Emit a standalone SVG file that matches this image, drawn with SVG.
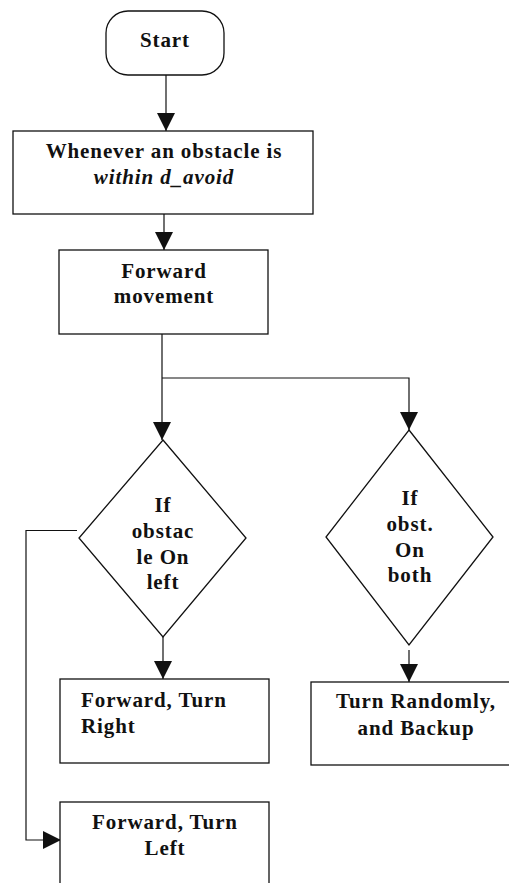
<svg xmlns="http://www.w3.org/2000/svg" width="509" height="883" viewBox="0 0 509 883">
<style>
.n{fill:#fff;stroke:#111;stroke-width:1.3}
.t{font-family:"Liberation Serif","Times New Roman",serif;font-weight:bold;font-size:21px;letter-spacing:0.9px;fill:#111}
.c{text-anchor:middle}
.i{font-style:italic}
.e{fill:none;stroke:#111;stroke-width:1.2}
</style>
<defs>
<marker id="ah" viewBox="0 0 10 10" refX="10" refY="5" markerWidth="18" markerHeight="18" markerUnits="userSpaceOnUse" orient="auto">
<path d="M0,0 L10,5 L0,10 Z" fill="#111"/>
</marker>
</defs>
<rect width="509" height="883" fill="#fff"/>
<g id="connectors">
<path class="e" d="M166,75 V131" marker-end="url(#ah)"/>
<path class="e" d="M164,214 V250" marker-end="url(#ah)"/>
<path class="e" d="M162,334 V378 M162,378 V440" marker-end="url(#ah)"/>
<path class="e" d="M162,378 H409 V430" marker-end="url(#ah)"/>
<path class="e" d="M163,637 V679" marker-end="url(#ah)"/>
<path class="e" d="M409,650 V682" marker-end="url(#ah)"/>
<path class="e" d="M77,530.5 H26 V840 H61" marker-end="url(#ah)"/>
</g>
<g id="start">
<rect class="n" x="106" y="11" width="118" height="64" rx="22" ry="22"/>
<text class="t c" x="165" y="47">Start</text>
</g>
<g id="whenever">
<rect class="n" x="13" y="131" width="300" height="83"/>
<text class="t c" x="164" y="158">Whenever an obstacle is</text>
<text class="t c i" x="164" y="184">within d_avoid</text>
</g>
<g id="forward-movement">
<rect class="n" x="59" y="250" width="209" height="84"/>
<text class="t c" x="164" y="278">Forward</text>
<text class="t c" x="164" y="303">movement</text>
</g>
<g id="if-left">
<polygon class="n" points="163,440 246,538 163,637 79,538"/>
<text class="t c" x="163" y="512">If</text>
<text class="t c" x="163" y="538">obstac</text>
<text class="t c" x="163" y="564">le On</text>
<text class="t c" x="163" y="589">left</text>
</g>
<g id="if-both">
<polygon class="n" points="409,430 493,537 409,645 326,537"/>
<text class="t c" x="410" y="505">If</text>
<text class="t c" x="410" y="531">obst.</text>
<text class="t c" x="410" y="557">On</text>
<text class="t c" x="410" y="582">both</text>
</g>
<g id="turn-right">
<rect class="n" x="60" y="679" width="209" height="84"/>
<text class="t" x="81" y="707">Forward, Turn</text>
<text class="t" x="81" y="733">Right</text>
</g>
<g id="turn-randomly">
<rect class="n" x="311" y="682" width="205" height="83"/>
<text class="t c" x="416" y="708">Turn Randomly,</text>
<text class="t c" x="416" y="735">and Backup</text>
</g>
<g id="turn-left">
<rect class="n" x="60" y="802" width="209" height="100"/>
<text class="t c" x="165" y="829">Forward, Turn</text>
<text class="t c" x="165" y="855">Left</text>
</g>
</svg>
